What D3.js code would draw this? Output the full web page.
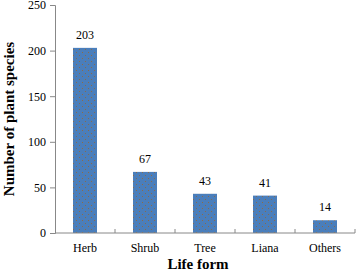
<!DOCTYPE html>
<html>
<head>
<meta charset="utf-8">
<script src="https://cdn.jsdelivr.net/npm/d3@7"></script>
<style>
  body { margin: 0; background: #fff; }
  svg { display: block; }
</style>
</head>
<body>
<svg id="chart" width="356" height="272"></svg>
<script>
var categories = ["Herb", "Shrub", "Tree", "Liana", "Others"];
var values = [203, 67, 43, 41, 14];
var yTicks = [0, 50, 100, 150, 200, 250];

var width = 356, height = 272;
var margin = {left: 55, right: 1, top: 5, bottom: 39};

var svg = d3.select("#chart");

// dotted fill like the original
var defs = svg.append("defs");
var pat = defs.append("pattern")
    .attr("id", "dots")
    .attr("patternUnits", "userSpaceOnUse")
    .attr("width", 6).attr("height", 6);
pat.append("rect").attr("width", 6).attr("height", 6).attr("fill", "#4a7ebb");
pat.append("rect").attr("x", 1).attr("y", 1).attr("width", 1).attr("height", 1).attr("fill", "#8a6a4a");
pat.append("rect").attr("x", 4).attr("y", 4).attr("width", 1).attr("height", 1).attr("fill", "#8a6a4a");

var x = d3.scaleBand()
    .domain(categories)
    .range([margin.left, width - margin.right])
    .paddingInner(0.6)
    .paddingOuter(0.3);

var y = d3.scaleLinear()
    .domain([0, 250])
    .range([height - margin.bottom, margin.top]);

var font = "'Liberation Serif', 'Times New Roman', serif";

// bars
svg.append("g")
  .selectAll("rect")
  .data(values)
  .join("rect")
    .attr("x", (d, i) => x(categories[i]))
    .attr("y", d => y(d))
    .attr("width", x.bandwidth())
    .attr("height", d => y(0) - y(d))
    .attr("fill", "url(#dots)");

// value labels
svg.append("g")
    .attr("font-family", font)
    .attr("font-size", 12)
    .attr("text-anchor", "middle")
  .selectAll("text")
  .data(values)
  .join("text")
    .attr("x", (d, i) => x(categories[i]) + x.bandwidth() / 2)
    .attr("y", d => y(d) - 9)
    .text(d => d);

// y axis
var yAxis = svg.append("g")
    .attr("transform", `translate(${margin.left},0)`)
    .call(d3.axisLeft(y).tickValues(yTicks).tickSize(5).tickPadding(4));
yAxis.selectAll("text").attr("font-family", font).attr("font-size", 12).attr("fill", "#000");
yAxis.selectAll("line, path").attr("stroke", "#888");

// x axis with inward ticks at category boundaries
var xAxisY = y(0);
var xg = svg.append("g");
xg.append("line")
    .attr("x1", margin.left).attr("x2", width - margin.right)
    .attr("y1", xAxisY).attr("y2", xAxisY)
    .attr("stroke", "#888");
var bounds = d3.range(categories.length + 1).map(i => margin.left + i * (width - margin.right - margin.left) / categories.length);
xg.selectAll(".tk")
  .data(bounds.slice(1))
  .join("line")
    .attr("x1", d => d).attr("x2", d => d)
    .attr("y1", xAxisY).attr("y2", xAxisY - 4)
    .attr("stroke", "#888");
xg.selectAll("text")
  .data(categories)
  .join("text")
    .attr("x", d => x(d) + x.bandwidth() / 2)
    .attr("y", xAxisY + 19)
    .attr("text-anchor", "middle")
    .attr("font-family", font)
    .attr("font-size", 12)
    .text(d => d);

// axis titles
svg.append("text")
    .attr("x", 198)
    .attr("y", 269)
    .attr("text-anchor", "middle")
    .attr("font-family", font)
    .attr("font-size", 15)
    .attr("font-weight", "bold")
    .text("Life form");

svg.append("text")
    .attr("transform", `translate(14,${(margin.top + xAxisY) / 2}) rotate(-90)`)
    .attr("text-anchor", "middle")
    .attr("font-family", font)
    .attr("font-size", 15)
    .attr("font-weight", "bold")
    .text("Number of plant species");
</script>
</body>
</html>
